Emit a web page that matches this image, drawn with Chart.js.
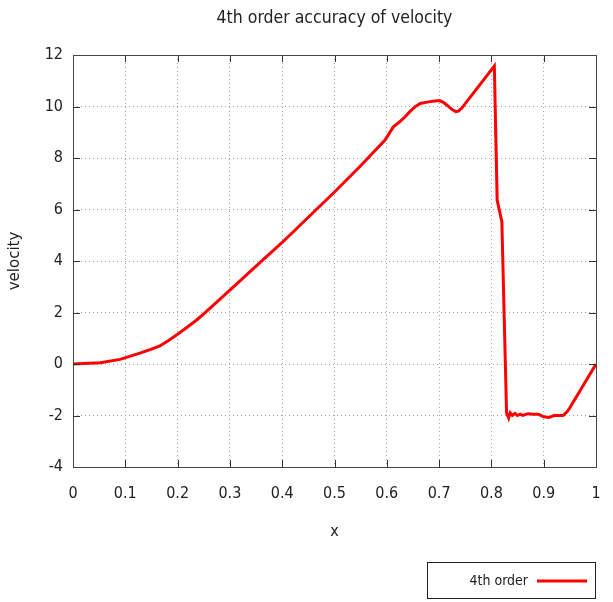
<!DOCTYPE html>
<html>
<head>
<meta charset="utf-8">
<script src="https://cdn.jsdelivr.net/npm/chart.js@4"></script>
<style>
  html, body { margin: 0; padding: 0; background: #fff; }
  #wrap { width: 613px; height: 602px; }
</style>
</head>
<body>
<div id="wrap"><canvas id="velChart" width="613" height="602"></canvas></div>
<script>
const xs = [0, 0.052, 0.09, 0.128, 0.15, 0.166, 0.182, 0.198, 0.215, 0.2365, 0.25, 0.3, 0.35, 0.4, 0.45, 0.5, 0.55,
  0.5966, 0.6125, 0.625, 0.635, 0.644, 0.655, 0.664, 0.68, 0.695, 0.702, 0.708, 0.7145, 0.725, 0.732, 0.737, 0.743, 0.8056,
  0.811, 0.820, 0.829, 0.833, 0.836, 0.84, 0.845, 0.85, 0.855, 0.86, 0.87, 0.88, 0.89,
  0.9, 0.91, 0.92, 0.93, 0.937, 0.945, 0.95, 1.0];
const velocity = [0, 0.05, 0.18, 0.42, 0.58, 0.70, 0.9, 1.13, 1.38, 1.71, 1.95, 2.87, 3.8, 4.72, 5.7, 6.68, 7.7,
  8.70, 9.21, 9.41, 9.6, 9.80, 10.0, 10.12, 10.18, 10.22, 10.22, 10.16, 10.06, 9.88, 9.80, 9.82, 9.93, 11.57,
  6.37, 5.53, -1.9, -2.1, -1.9, -2.0, -1.92, -2.0, -1.95, -2.0, -1.93, -1.95, -1.95,
  -2.05, -2.08, -2.0, -2.0, -2.0, -1.85, -1.7, 0];
const xTicks = [0, 0.1, 0.2, 0.3, 0.4, 0.5, 0.6, 0.7, 0.8, 0.9, 1];
const yTicks = [-4, -2, 0, 2, 4, 6, 8, 10, 12];

const FONT = "'DejaVu Sans Condensed', 'Liberation Sans Narrow', 'DejaVu Sans', sans-serif";

// gnuplot-like frame: border, inward ticks, title, legend box
const gnuFrame = {
  id: 'gnuFrame',
  afterDraw(chart) {
    const { ctx, chartArea: a, scales } = chart;
    ctx.save();
    ctx.strokeStyle = '#333';
    ctx.lineWidth = 1;
    ctx.setLineDash([]);
    ctx.beginPath();
    xTicks.forEach(t => {
      const px = Math.round(scales.x.getPixelForValue(t)) + 0.5;
      ctx.moveTo(px, a.bottom); ctx.lineTo(px, a.bottom - 7);
      ctx.moveTo(px, a.top); ctx.lineTo(px, a.top + 7);
    });
    yTicks.forEach(t => {
      const py = Math.round(scales.y.getPixelForValue(t)) + 0.5;
      ctx.moveTo(a.left, py); ctx.lineTo(a.left + 7, py);
      ctx.moveTo(a.right, py); ctx.lineTo(a.right - 7, py);
    });
    ctx.stroke();
    ctx.strokeStyle = '#444';
    ctx.strokeRect(Math.round(a.left) + 0.5, Math.round(a.top) + 0.5,
      Math.round(a.right - a.left), Math.round(a.bottom - a.top));

    // title
    ctx.fillStyle = '#222';
    ctx.font = '17.5px ' + FONT;
    ctx.textAlign = 'center';
    ctx.textBaseline = 'middle';
    ctx.fillText('4th order accuracy of velocity', (a.left + a.right) / 2, 18);

    // legend
    const ds = chart.data.datasets[0];
    ctx.strokeStyle = '#222';
    ctx.lineWidth = 1;
    ctx.strokeRect(427.5, 562.5, 168, 36);
    ctx.font = '14px ' + FONT;
    ctx.textAlign = 'right';
    ctx.fillText(ds.label, 528, 581);
    ctx.strokeStyle = ds.borderColor;
    ctx.lineWidth = 3;
    ctx.beginPath();
    ctx.moveTo(537, 581); ctx.lineTo(587, 581);
    ctx.stroke();
    ctx.restore();
  }
};

new Chart(document.getElementById('velChart'), {
  type: 'line',
  data: {
    datasets: [{
      label: '4th order',
      data: xs.map((x, i) => ({ x: x, y: velocity[i] })),
      borderColor: '#ff0000',
      borderWidth: 3,
      pointRadius: 0,
      tension: 0,
      fill: false
    }]
  },
  options: {
    responsive: false,
    animation: false,
    layout: { padding: { top: 55, right: 17, bottom: 61, left: 0 } },
    plugins: {
      legend: { display: false },
      title: { display: false },
      tooltip: { enabled: false }
    },
    scales: {
      x: {
        type: 'linear',
        min: 0,
        max: 1,
        afterBuildTicks: s => { s.ticks = xTicks.map(v => ({ value: v })); },
        afterFit: s => { s.height = 74; s.paddingLeft = 0; s.paddingRight = 0; },
        ticks: {
          color: '#222',
          font: { family: FONT, size: 16 },
          padding: 17,
          maxRotation: 0,
          autoSkip: false,
          callback: v => String(v)
        },
        grid: {
          color: c => (c.tick.value === 0 || c.tick.value === 1) ? 'rgba(0,0,0,0)' : '#a0a0a0',
          lineWidth: 1,
          tickLength: 0,
          drawTicks: false
        },
        border: { display: false, dash: [1, 3] },
        title: {
          display: true,
          text: 'x',
          color: '#222',
          font: { family: FONT, size: 16 },
          padding: { top: 10, bottom: 0 }
        }
      },
      y: {
        min: -4,
        max: 12,
        afterBuildTicks: s => { s.ticks = yTicks.map(v => ({ value: v })); },
        afterFit: s => { s.width = 73; s.paddingTop = 0; s.paddingBottom = 0; },
        ticks: {
          color: '#222',
          font: { family: FONT, size: 16 },
          padding: 10,
          autoSkip: false
        },
        grid: {
          color: c => (c.tick.value === -4 || c.tick.value === 12) ? 'rgba(0,0,0,0)' : '#a0a0a0',
          lineWidth: 1,
          tickLength: 0,
          drawTicks: false
        },
        border: { display: false, dash: [1, 3] },
        title: {
          display: true,
          text: 'velocity',
          color: '#222',
          font: { family: "'DejaVu Sans', sans-serif", size: 15 },
          padding: { top: 6, bottom: 0 }
        }
      }
    }
  },
  plugins: [gnuFrame]
});
</script>
</body>
</html>
